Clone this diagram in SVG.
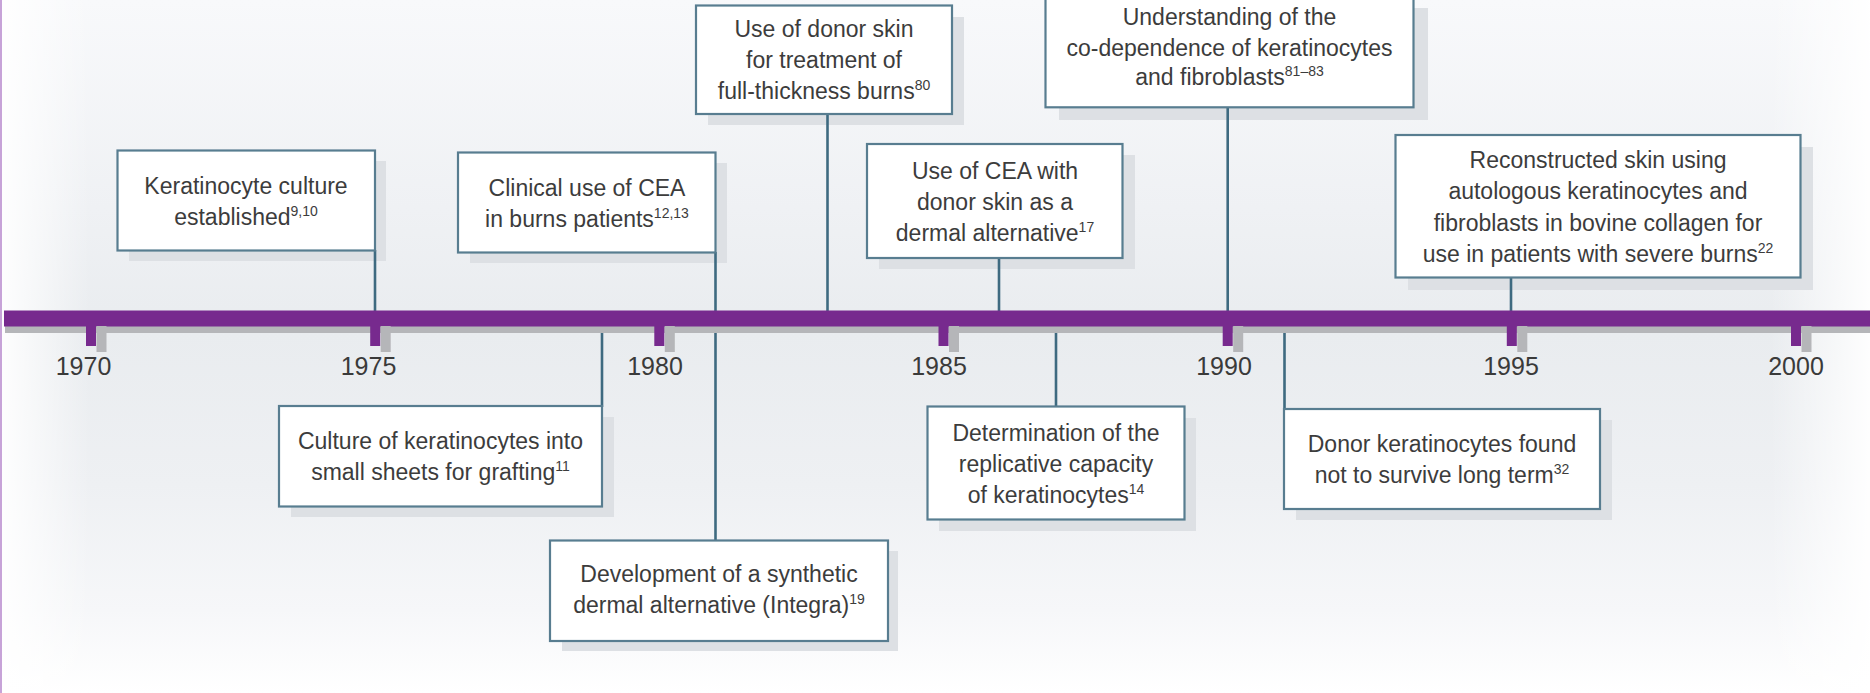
<svg xmlns="http://www.w3.org/2000/svg" width="1870" height="693" viewBox="0 0 1870 693">
  <style>
    .box { fill: #ffffff; stroke: #587d90; stroke-width: 2.2; }
    .shadow { fill: #dde0e4; }
    .link { stroke: #3e6a80; stroke-width: 2.6; fill: none; }
    .lbl { font-family: "Liberation Sans", Arial, sans-serif; font-size: 23px; fill: #3c3c3c; text-anchor: middle; }
    .sup { font-size: 14px; }
    .year { font-family: "Liberation Sans", Arial, sans-serif; font-size: 25px; fill: #3a3a3a; text-anchor: middle; }
    .tick { fill: #772a8e; }
    .tickShadow { fill: #b5b6b9; }
  </style>
  <defs>
    <linearGradient id="bgV" x1="0" y1="0" x2="0" y2="1">
      <stop offset="0" stop-color="#f8f9fb"/>
      <stop offset="0.3" stop-color="#eff1f4"/>
      <stop offset="0.48" stop-color="#e9ecef"/>
      <stop offset="0.7" stop-color="#eef0f3"/>
      <stop offset="0.88" stop-color="#f6f7f9"/>
      <stop offset="1" stop-color="#ffffff"/>
    </linearGradient>
    <linearGradient id="fadeL" x1="0" y1="0" x2="1" y2="0">
      <stop offset="0" stop-color="#ffffff" stop-opacity="0.95"/>
      <stop offset="1" stop-color="#ffffff" stop-opacity="0"/>
    </linearGradient>
    <linearGradient id="fadeR" x1="0" y1="0" x2="1" y2="0">
      <stop offset="0" stop-color="#ffffff" stop-opacity="0"/>
      <stop offset="1" stop-color="#ffffff" stop-opacity="0.95"/>
    </linearGradient>
  </defs>

  <!-- panel background -->
  <rect x="0" y="0" width="1870" height="693" fill="url(#bgV)"/>
  <rect x="0" y="0" width="90" height="693" fill="url(#fadeL)"/>
  <rect x="1770" y="0" width="100" height="693" fill="url(#fadeR)"/>
  <line x1="1" y1="0" x2="1" y2="693" stroke="#c7a3d8" stroke-width="2"/>

  <!-- drop shadows of the event boxes -->
  <g id="shadows">
    <rect class="shadow" x="129" y="161" width="257" height="100"/>
    <rect class="shadow" x="470" y="163" width="257" height="100"/>
    <rect class="shadow" x="708" y="17" width="256" height="108"/>
    <rect class="shadow" x="879" y="155" width="256" height="114"/>
    <rect class="shadow" x="1059" y="8" width="369" height="112"/>
    <rect class="shadow" x="1408" y="147" width="405" height="143"/>
    <rect class="shadow" x="291" y="417" width="323" height="100"/>
    <rect class="shadow" x="562" y="551" width="336" height="100"/>
    <rect class="shadow" x="939" y="418" width="257" height="113"/>
    <rect class="shadow" x="1296" y="420" width="316" height="100"/>
  </g>

  <!-- connectors from events to the time axis -->
  <g id="connectors">
    <line class="link" x1="375" y1="250" x2="375" y2="312"/>
    <line class="link" x1="715.5" y1="252" x2="715.5" y2="541"/>
    <line class="link" x1="827.5" y1="114" x2="827.5" y2="312"/>
    <line class="link" x1="999" y1="258" x2="999" y2="312"/>
    <line class="link" x1="1227.7" y1="107" x2="1227.7" y2="312"/>
    <line class="link" x1="1511" y1="277" x2="1511" y2="312"/>
    <line class="link" x1="602" y1="326" x2="602" y2="407"/>
    <line class="link" x1="1056" y1="326" x2="1056" y2="407"/>
    <line class="link" x1="1284.5" y1="326" x2="1284.5" y2="410"/>
  </g>

  <!-- time axis -->
  <g id="axis">
    <rect x="5" y="316.5" width="1865" height="16.5" fill="#b5b6b9"/>
    <rect x="4" y="310.5" width="1866" height="16" fill="#772a8e"/>
    <rect class="tickShadow" x="96.5" y="326" width="10" height="26"/>
    <rect class="tick" x="86" y="326" width="10" height="20"/>
    <rect class="tickShadow" x="380.7" y="326" width="10" height="26"/>
    <rect class="tick" x="370.2" y="326" width="10" height="20"/>
    <rect class="tickShadow" x="664.8" y="326" width="10" height="26"/>
    <rect class="tick" x="654.3" y="326" width="10" height="20"/>
    <rect class="tickShadow" x="949" y="326" width="10" height="26"/>
    <rect class="tick" x="938.5" y="326" width="10" height="20"/>
    <rect class="tickShadow" x="1233.2" y="326" width="10" height="26"/>
    <rect class="tick" x="1222.7" y="326" width="10" height="20"/>
    <rect class="tickShadow" x="1517.3" y="326" width="10" height="26"/>
    <rect class="tick" x="1506.8" y="326" width="10" height="20"/>
    <rect class="tickShadow" x="1801.5" y="326" width="10" height="26"/>
    <rect class="tick" x="1791" y="326" width="10" height="20"/>
    <text class="year" x="83.5" y="374.5">1970</text>
    <text class="year" x="368.5" y="374.5">1975</text>
    <text class="year" x="655" y="374.5">1980</text>
    <text class="year" x="939" y="374.5">1985</text>
    <text class="year" x="1224" y="374.5">1990</text>
    <text class="year" x="1511" y="374.5">1995</text>
    <text class="year" x="1796" y="374.5">2000</text>
  </g>

  <!-- events above the axis -->
  <g id="ev-keratinocyte-culture">
    <rect class="box" x="117.5" y="150.5" width="257.5" height="100"/>
    <text class="lbl" x="246" y="193.5">Keratinocyte culture</text>
    <text class="lbl" x="246" y="224.5">established<tspan class="sup" dy="-9">9,10</tspan></text>
  </g>
  <g id="ev-clinical-cea">
    <rect class="box" x="458" y="152.5" width="257.5" height="100"/>
    <text class="lbl" x="587" y="195.5">Clinical use of CEA</text>
    <text class="lbl" x="587" y="226.5">in burns patients<tspan class="sup" dy="-9">12,13</tspan></text>
  </g>
  <g id="ev-donor-skin">
    <rect class="box" x="696" y="5.5" width="256" height="108.5"/>
    <text class="lbl" x="824" y="37">Use of donor skin</text>
    <text class="lbl" x="824" y="68">for treatment of</text>
    <text class="lbl" x="824" y="99">full-thickness burns<tspan class="sup" dy="-9">80</tspan></text>
  </g>
  <g id="ev-cea-donor-skin">
    <rect class="box" x="867" y="144" width="255.5" height="114"/>
    <text class="lbl" x="995" y="178.5">Use of CEA with</text>
    <text class="lbl" x="995" y="209.5">donor skin as a</text>
    <text class="lbl" x="995" y="240.5">dermal alternative<tspan class="sup" dy="-9">17</tspan></text>
  </g>
  <g id="ev-codependence">
    <rect class="box" x="1045.5" y="-4" width="368" height="111.3"/>
    <text class="lbl" x="1229.5" y="25">Understanding of the</text>
    <text class="lbl" x="1229.5" y="55.5">co-dependence of keratinocytes</text>
    <text class="lbl" x="1229.5" y="85">and fibroblasts<tspan class="sup" dy="-9">81–83</tspan></text>
  </g>
  <g id="ev-reconstructed-skin">
    <rect class="box" x="1395.5" y="135" width="405" height="142.5"/>
    <text class="lbl" x="1598" y="168">Reconstructed skin using</text>
    <text class="lbl" x="1598" y="199">autologous keratinocytes and</text>
    <text class="lbl" x="1598" y="230.5">fibroblasts in bovine collagen for</text>
    <text class="lbl" x="1598" y="262">use in patients with severe burns<tspan class="sup" dy="-9">22</tspan></text>
  </g>

  <!-- events below the axis -->
  <g id="ev-small-sheets">
    <rect class="box" x="279" y="406" width="323" height="100.5"/>
    <text class="lbl" x="440.5" y="449">Culture of keratinocytes into</text>
    <text class="lbl" x="440.5" y="480">small sheets for grafting<tspan class="sup" dy="-9">11</tspan></text>
  </g>
  <g id="ev-integra">
    <rect class="box" x="550" y="540.5" width="338" height="100.5"/>
    <text class="lbl" x="719" y="582">Development of a synthetic</text>
    <text class="lbl" x="719" y="613">dermal alternative (Integra)<tspan class="sup" dy="-9">19</tspan></text>
  </g>
  <g id="ev-replicative-capacity">
    <rect class="box" x="927.5" y="406.5" width="257" height="113"/>
    <text class="lbl" x="1056" y="440.5">Determination of the</text>
    <text class="lbl" x="1056" y="471.5">replicative capacity</text>
    <text class="lbl" x="1056" y="502.5">of keratinocytes<tspan class="sup" dy="-9">14</tspan></text>
  </g>
  <g id="ev-donor-keratinocytes">
    <rect class="box" x="1284" y="409" width="316" height="100"/>
    <text class="lbl" x="1442" y="451.5">Donor keratinocytes found</text>
    <text class="lbl" x="1442" y="482.5">not to survive long term<tspan class="sup" dy="-9">32</tspan></text>
  </g>
</svg>
